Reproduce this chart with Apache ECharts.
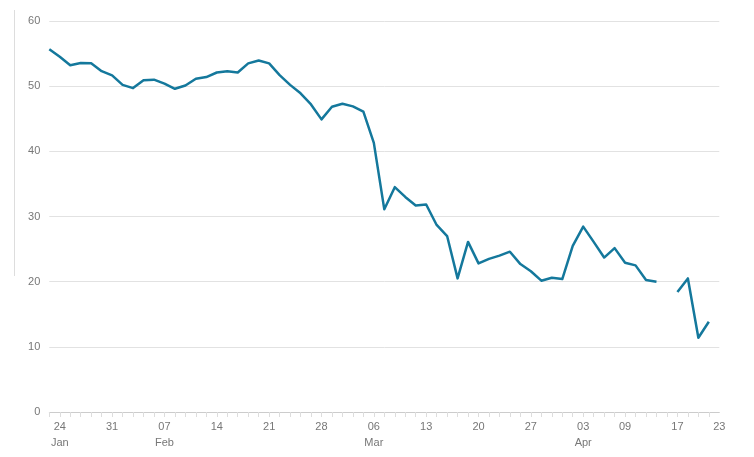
<!DOCTYPE html>
<html>
<head>
<meta charset="utf-8">
<script src="https://cdn.jsdelivr.net/npm/echarts@6/dist/echarts.min.js"></script>
<style>
html,body{margin:0;padding:0;background:#fff;}
#chart{width:754px;height:457px;}
</style>
</head>
<body>
<div id="chart"></div>
<script>
// Trading days (2020), Good Friday omitted
var dates = [
  "01-23","01-24","01-27","01-28","01-29","01-30","01-31",
  "02-03","02-04","02-05","02-06","02-07",
  "02-10","02-11","02-12","02-13","02-14",
  "02-17","02-18","02-19","02-20","02-21",
  "02-24","02-25","02-26","02-27","02-28",
  "03-02","03-03","03-04","03-05","03-06",
  "03-09","03-10","03-11","03-12","03-13",
  "03-16","03-17","03-18","03-19","03-20",
  "03-23","03-24","03-25","03-26","03-27",
  "03-30","03-31","04-01","04-02","04-03",
  "04-06","04-07","04-08","04-09",
  "04-13","04-14","04-15","04-16","04-17",
  "04-20","04-21","04-22","04-23"
];
var values = [
  55.65, 54.5, 53.2, 53.55, 53.5, 52.3, 51.65,
  50.2, 49.7, 50.9, 51.0, 50.4,
  49.6, 50.1, 51.15, 51.4, 52.1,
  52.3, 52.1, 53.5, 53.95, 53.5,
  51.7, 50.2, 48.9, 47.2, 44.9,
  46.85, 47.3, 46.9, 46.1, 41.3,
  31.1, 34.5, 33.0, 31.7, 31.85,
  28.7, 27.0, 20.5, 26.1, 22.8,
  23.5, 24.0, 24.6, 22.7, 21.6,
  20.15, 20.6, 20.4, 25.5, 28.45,
  26.1, 23.7, 25.15, 22.9,
  22.5, 20.25, 20.0, null, 18.4,
  20.5, 11.4, 13.85, null
];
// tick labels shown on the x axis: category -> label text
var xTickLabels = {
  "01-24": "24\nJan", "01-31": "31", "02-07": "07\nFeb", "02-14": "14",
  "02-21": "21", "02-28": "28", "03-06": "06\nMar", "03-13": "13",
  "03-20": "20", "03-27": "27", "04-03": "03\nApr", "04-09": "09",
  "04-17": "17", "04-23": "23"
};
var yMin = 0, yMax = 60, yStep = 10;

var chart = echarts.init(document.getElementById('chart'), null, {renderer: 'canvas'});
var font = '"Liberation Sans", Helvetica, Arial, sans-serif';
chart.setOption({
  animation: false,
  backgroundColor: '#ffffff',
  grid: {left: 49.3, right: 34.7, top: 21, bottom: 45, containLabel: false},
  graphic: [{
    type: 'line',
    shape: {x1: 14.5, y1: 10, x2: 14.5, y2: 276},
    style: {stroke: '#dddddd', lineWidth: 1}
  }],
  xAxis: {
    type: 'category',
    data: dates,
    boundaryGap: false,
    axisLine: {show: true, lineStyle: {color: '#cccccc', width: 1}},
    axisTick: {
      show: true, length: 5, inside: false,
      interval: function (idx) { return idx < dates.length - 1; },
      lineStyle: {color: '#dddddd'}
    },
    axisLabel: {
      interval: function (idx, val) { return xTickLabels.hasOwnProperty(val); },
      formatter: function (val) { return xTickLabels[val] || ''; },
      color: '#777777', fontSize: 11, fontFamily: font, lineHeight: 16, margin: 7
    },
    splitLine: {show: false}
  },
  yAxis: {
    type: 'value',
    min: yMin, max: yMax, interval: yStep,
    axisLine: {show: false},
    axisTick: {show: false},
    axisLabel: {color: '#777777', fontSize: 11, fontFamily: font, margin: 9},
    splitLine: {lineStyle: {color: '#e2e2e2', width: 1}}
  },
  series: [{
    type: 'line',
    data: values,
    connectNulls: false,
    showSymbol: false,
    symbol: 'none',
    lineStyle: {color: '#14789c', width: 2.5, join: 'round'},
    itemStyle: {color: '#14789c'}
  }]
});
</script>
</body>
</html>
